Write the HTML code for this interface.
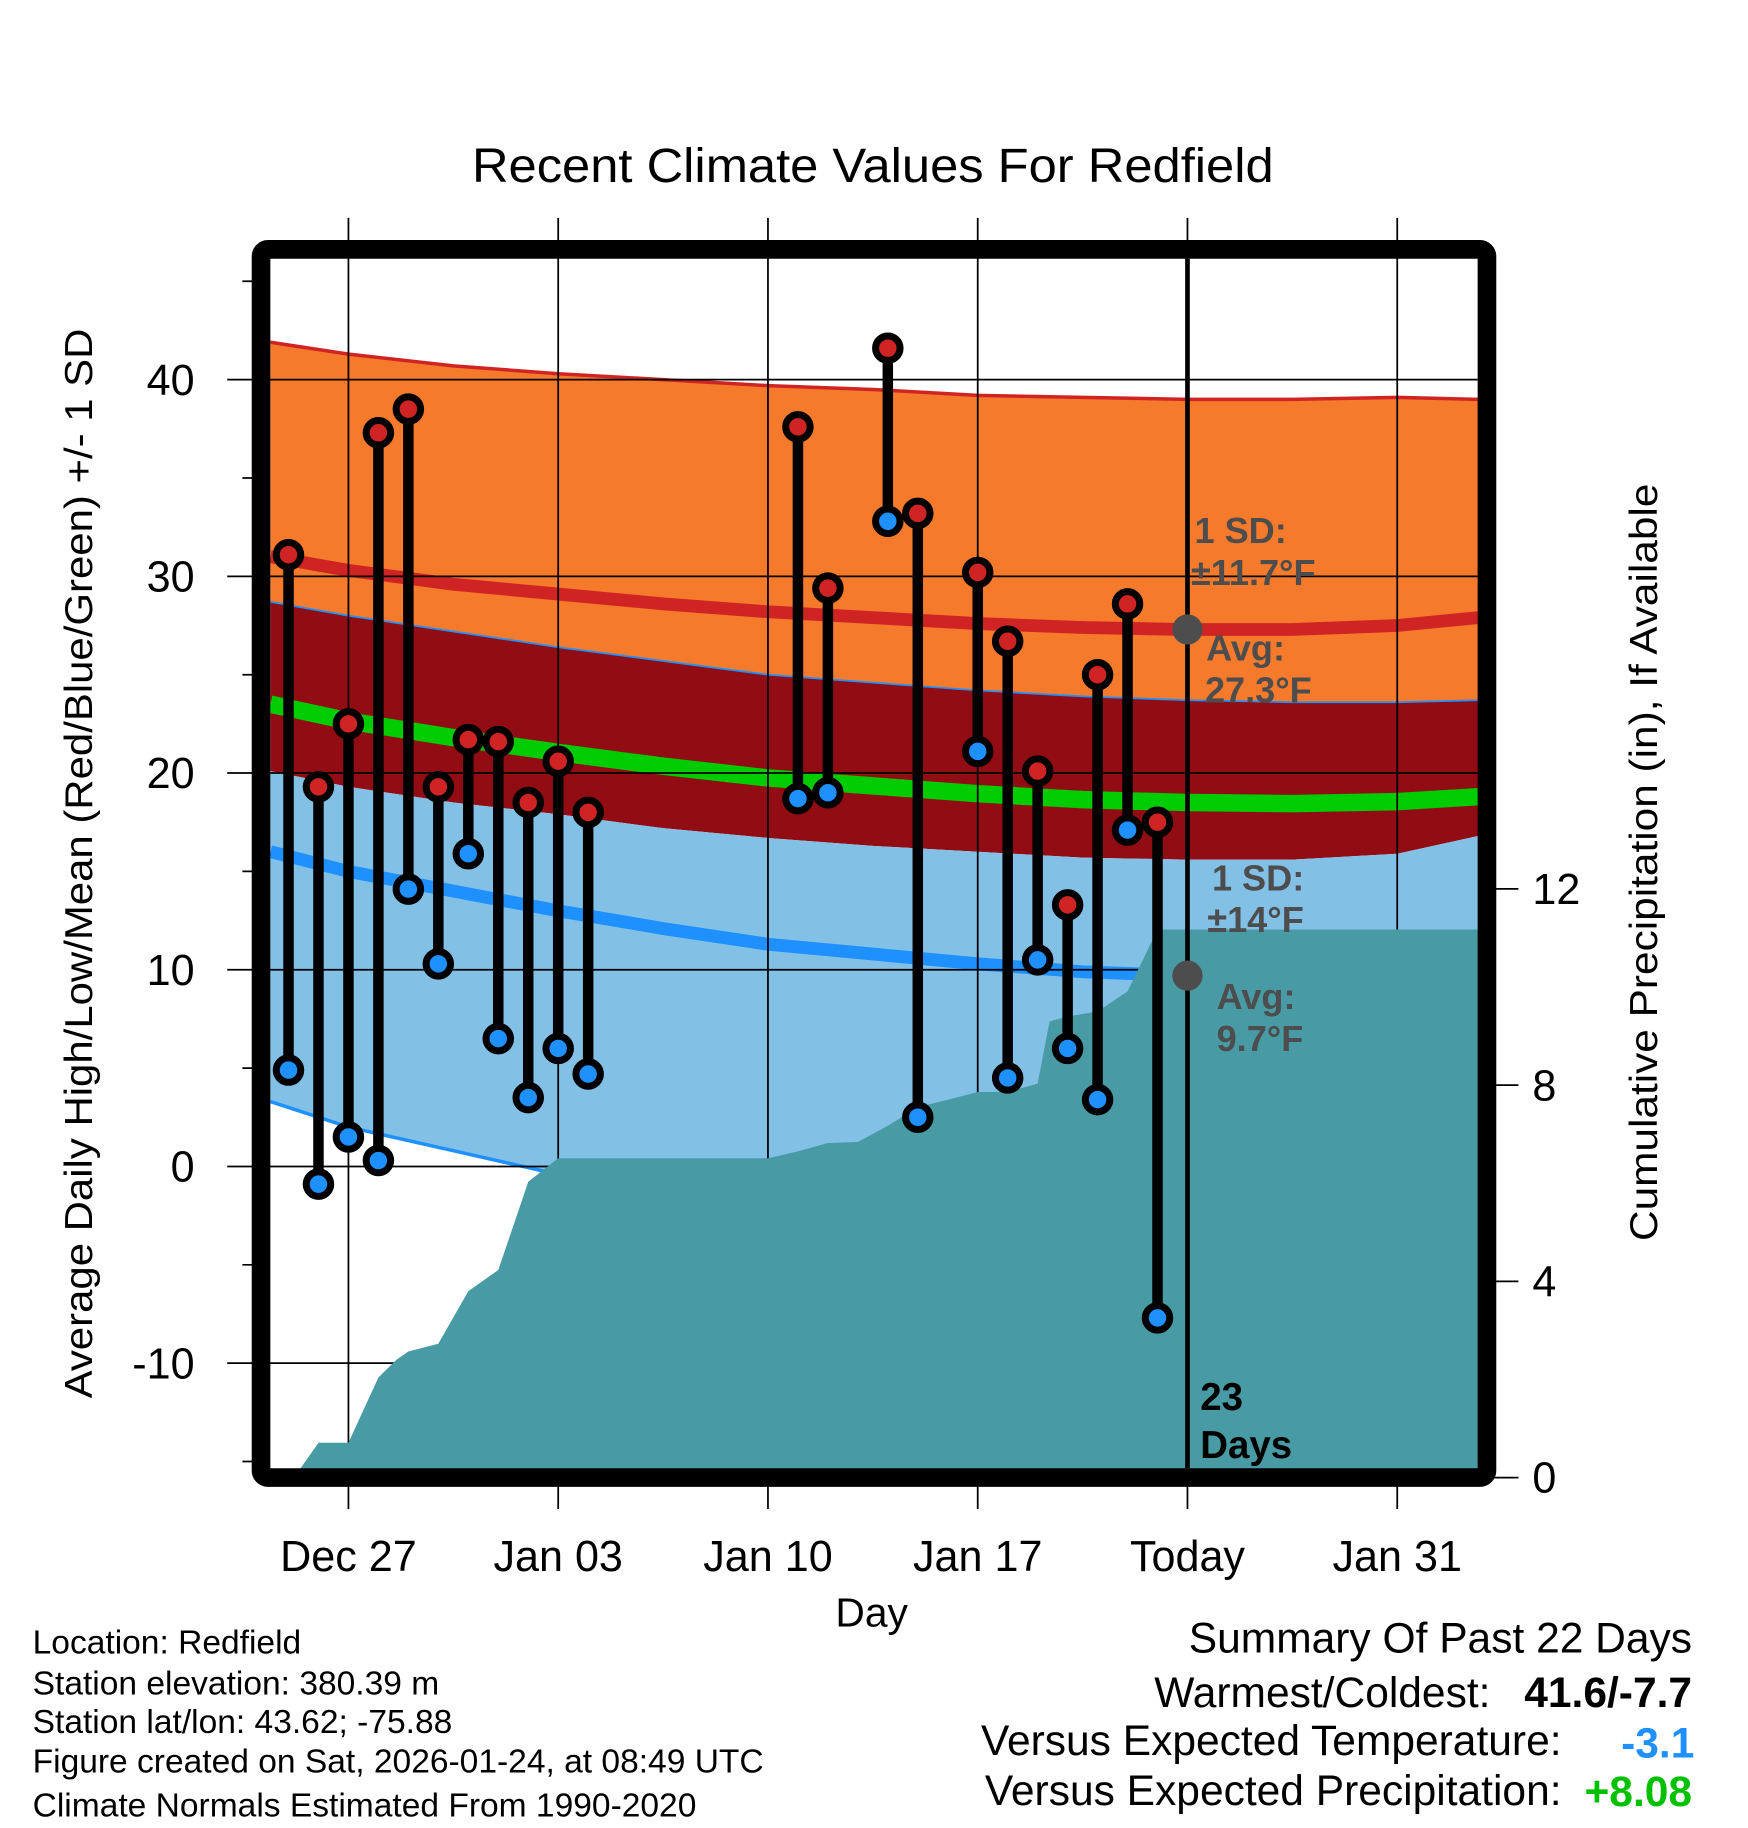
<!DOCTYPE html>
<html><head><meta charset="utf-8"><style>
html,body{margin:0;padding:0;background:#fff}
svg{display:block;font-family:"Liberation Sans",Arial,sans-serif}
</style></head><body>
<svg id="chart" width="1748" height="1828" viewBox="0 0 1500 1568.7" preserveAspectRatio="none" xmlns="http://www.w3.org/2000/svg">
<text x="749" y="156" font-size="41" text-anchor="middle" textLength="688" lengthAdjust="spacingAndGlyphs">Recent Climate Values For Redfield</text>
<g id="layers"></g>
<text transform="translate(79,741) rotate(-90)" font-size="33" text-anchor="middle" textLength="918" lengthAdjust="spacingAndGlyphs">Average Daily High/Low/Mean (Red/Blue/Green) +/- 1 SD</text>
<text transform="translate(1422,740) rotate(-90)" font-size="33" text-anchor="middle" textLength="650" lengthAdjust="spacingAndGlyphs">Cumulative Precipitation (in), If Available</text>
<text x="748" y="1396" font-size="35" text-anchor="middle">Day</text>
<g font-size="28.8">
<text x="28" y="1419">Location: Redfield</text>
<text x="28" y="1454">Station elevation: 380.39 m</text>
<text x="28" y="1487">Station lat/lon: 43.62; -75.88</text>
<text x="28" y="1521">Figure created on Sat, 2026-01-24, at 08:49 UTC</text>
<text x="28" y="1559">Climate Normals Estimated From 1990-2020</text>
</g>
<g font-size="36.5" text-anchor="end">
<text x="1452" y="1418">Summary Of Past 22 Days</text>
<text x="1279" y="1465">Warmest/Coldest:</text>
<text x="1452" y="1465" font-weight="bold">41.6/-7.7</text>
<text x="1340" y="1506">Versus Expected Temperature:</text>
<text x="1454" y="1508" font-weight="bold" fill="#1e90ff">-3.1</text>
<text x="1340" y="1549">Versus Expected Precipitation:</text>
<text x="1452" y="1550" font-weight="bold" fill="#00c000">+8.08</text>
</g>
</svg>
<script>
// Data
const normDays = [-2.6, 0, 3.5, 7, 10.5, 14, 17.5, 21, 24.5, 28, 31.5, 35, 37.7];
const hiMean = [31.0, 30.3, 29.6, 29.1, 28.6, 28.2, 27.9, 27.6, 27.4, 27.3, 27.3, 27.5, 27.9];
const hiSD = [10.9, 11.0, 11.1, 11.2, 11.4, 11.5, 11.6, 11.6, 11.7, 11.7, 11.7, 11.6, 11.1];
const loMean = [16.0, 15.0, 14.0, 13.0, 12.1, 11.3, 10.8, 10.3, 9.9, 9.7, 9.6, 9.6, 9.7];
const loSD = [12.7, 13.0, 13.2, 13.4, 13.6, 13.7, 13.8, 13.9, 14.0, 14.0, 14.0, 14.0, 14.0];
const obsDays = [-2,-1,0,1,2,3,4,5,6,7,8,15,16,18,19,21,22,23,24,25,26,27];
const obsHigh = [31.1,19.3,22.5,37.3,38.5,19.3,21.7,21.6,18.5,20.6,18.0,37.6,29.4,41.6,33.2,30.2,26.7,20.1,13.3,25.0,28.6,17.5];
const obsLow = [4.9,-0.9,1.5,0.3,14.1,10.3,15.9,6.5,3.5,6.0,4.7,18.7,19.0,32.8,2.5,21.1,4.5,10.5,6.0,3.4,17.1,-7.7];
const precDays = [-1.6,-1,0,1,1.6,2,3,4,5,6,7,14,15,16,17,18,19,20,21,22,23,23.4,24,25,26,27,28,37.7];
const precVals = [0.19,0.71,0.71,2.04,2.4,2.57,2.73,3.80,4.23,6.03,6.51,6.51,6.65,6.82,6.84,7.17,7.55,7.70,7.86,7.86,8.03,9.3,9.4,9.5,9.91,11.17,11.17,11.17];
const yTicks = [-10,0,10,20,30,40];
const yMinor = [-15,-5,5,15,25,35,45];
const pTicks = [0,4,8,12];
const xTickDays = [0,7,14,21,28,35];
const xTickLabels = ["Dec 27","Jan 03","Jan 10","Jan 17","Today","Jan 31"];
const todayDay = 28;

const L=232,R=1268,T=222,B=1260;
const X=d=>299+d*(180/7);
const Y=v=>1001-v*16.88;
const P=p=>1268-p*42.1;
const NS="http://www.w3.org/2000/svg";
const g=document.getElementById('layers');
function el(tag,attrs,parent){const e=document.createElementNS(NS,tag);for(const k in attrs)e.setAttribute(k,attrs[k]);(parent||g).appendChild(e);return e;}
const pts=(days,vals,fy)=>days.map((d,i)=>X(d).toFixed(1)+','+fy(vals[i]).toFixed(1));
const hiU=hiMean.map((v,i)=>v+hiSD[i]), hiL=hiMean.map((v,i)=>v-hiSD[i]);
const loU=loMean.map((v,i)=>v+loSD[i]), loL=loMean.map((v,i)=>v-loSD[i]);
const avg=hiMean.map((v,i)=>(v+loMean[i])/2);
const rev=a=>a.slice().reverse();
const rdays=rev(normDays);

let e;
e=el('polygon',{points:pts(normDays,hiU,Y).concat(pts(rdays,rev(loU),Y)).join(' '),fill:'#f57a2c'});
 
e=el('polygon',{points:pts(normDays,loU,Y).concat(pts(rdays,rev(hiL),Y)).join(' '),fill:'#920c14'});
 
e=el('polygon',{points:pts(normDays,hiL,Y).concat(pts(rdays,rev(loL),Y)).join(' '),fill:'#82c0e6'});
 
e=el('polyline',{points:pts(normDays,hiU,Y).join(' '),fill:'none',stroke:'#d02424','stroke-width':3});
 
e=el('polyline',{points:pts(normDays,loU,Y).join(' '),fill:'none',stroke:'#1e90ff','stroke-width':1.5});
 
e=el('polyline',{points:pts(normDays,loL,Y).join(' '),fill:'none',stroke:'#1e90ff','stroke-width':3});
 
e=el('polyline',{points:pts(normDays,hiMean,Y).join(' '),fill:'none',stroke:'#d02424','stroke-width':11});
 
e=el('polyline',{points:pts(normDays,loMean,Y).join(' '),fill:'none',stroke:'#1e90ff','stroke-width':11});
 
e=el('polyline',{points:pts(normDays,avg,Y).join(' '),fill:'none',stroke:'#00cc00','stroke-width':15});
 

// gridlines
xTickDays.forEach((d,i)=>{
  e=el('line',{x1:X(d),x2:X(d),y1:187,y2:1295,stroke:'#000','stroke-width':1.5});
   
  e=el('text',{x:X(d),y:1348,'font-size':37,'text-anchor':'middle'});
  e.textContent=xTickLabels[i];
   
});
yTicks.forEach(v=>{
  e=el('line',{x1:195,x2:R,y1:Y(v),y2:Y(v),stroke:'#000','stroke-width':1.5});
   
  e=el('text',{x:167,y:Y(v)+13,'font-size':37,'text-anchor':'end'});
  e.textContent=v;
   
});
yMinor.forEach(v=>{
  e=el('line',{x1:208,x2:224,y1:Y(v),y2:Y(v),stroke:'#000','stroke-width':1.5});
   
});

// precip
const pp=pts(precDays,precVals,P);
pp.push(X(precDays[precDays.length-1]).toFixed(1)+','+P(0), X(precDays[0]).toFixed(1)+','+P(0));
e=el('polygon',{points:pp.join(' '),fill:'#489ba4'});
 
pTicks.forEach(p=>{
  e=el('line',{x1:1276,x2:1303,y1:P(p),y2:P(p),stroke:'#000','stroke-width':1.5});
   
  e=el('text',{x:1315,y:P(p)+13,'font-size':37});
  e.textContent=p;
   
});

// today line
e=el('line',{x1:X(todayDay),x2:X(todayDay),y1:T,y2:B,stroke:'#000','stroke-width':4});
 

// observations
obsDays.forEach((d,i)=>{
  const x=X(d);
  e=el('line',{x1:x,x2:x,y1:Y(obsHigh[i]),y2:Y(obsLow[i]),stroke:'#000','stroke-width':9});
   
  e=el('circle',{cx:x,cy:Y(obsHigh[i]),r:10.5,fill:'#d02424',stroke:'#000','stroke-width':6});
   
  e=el('circle',{cx:x,cy:Y(obsLow[i]),r:10.5,fill:'#1e90ff',stroke:'#000','stroke-width':6});
   
});

// annotations
const tx=X(todayDay);
const hiToday=hiMean[normDays.indexOf(todayDay)], loToday=loMean[normDays.indexOf(todayDay)];
e=el('circle',{cx:tx,cy:Y(hiToday),r:13,fill:'#4d4d4d'});
 
e=el('circle',{cx:tx,cy:Y(loToday),r:13,fill:'#4d4d4d'});
 
const ann=[['1 SD:',1025,466],['±11.7°F',1022,502],['Avg:',1035,567],['27.3°F',1034,603],['1 SD:',1040,764],['±14°F',1036,800],['Avg:',1044,866],['9.7°F',1044,902]];
ann.forEach(a=>{
  e=el('text',{x:a[1],y:a[2],'font-size':31,'font-weight':'bold',fill:'#4d4d4d'});
  e.textContent=a[0];
   
});
[['23',1030,1210],['Days',1030,1251]].forEach(a=>{
  e=el('text',{x:a[1],y:a[2],'font-size':33,'font-weight':'bold',fill:'#000'});
  e.textContent=a[0];
   
});

// frame
e=el('rect',{x:224,y:214,width:1052,height:1054,rx:6,fill:'none',stroke:'#000','stroke-width':16});
 
</script>
</body></html>
